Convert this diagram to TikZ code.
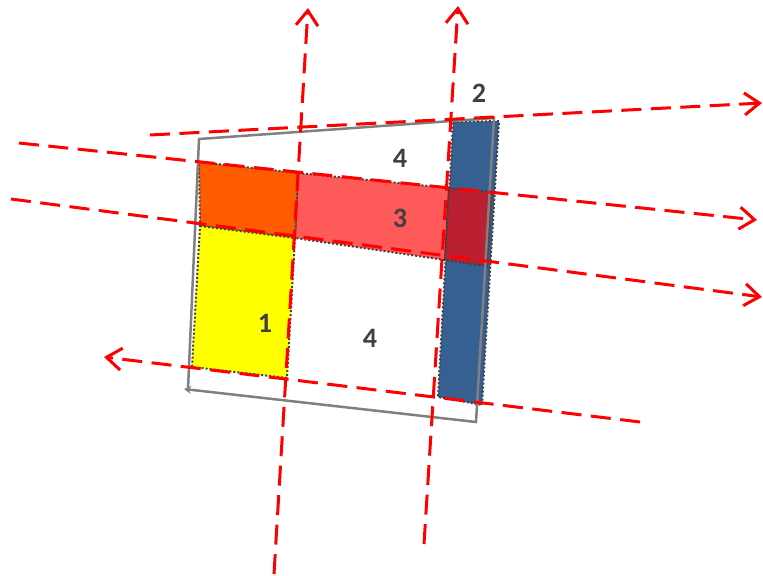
\documentclass[tikz,border=0pt]{standalone}
\usepackage{fontspec}
\newfontfamily\labelfont{Carlito}[BoldFont={Carlito Bold}]
\usetikzlibrary{arrows.meta}

\definecolor{zoneyellow}{HTML}{FFFF00}
\definecolor{zoneorange}{HTML}{FF5B00}
\definecolor{zonered}{HTML}{FF5A5A}
\definecolor{zonedark}{HTML}{BA1F32}
\definecolor{zoneblue}{HTML}{366092}
\definecolor{textgray}{HTML}{404040}
\definecolor{outlinegray}{HTML}{808080}

\begin{document}
\begin{tikzpicture}[
            x=0.2mm, y=-0.2mm,
            zone/.style={draw=textgray, line width=0.4mm, dash pattern=on 0.4mm off 0.4mm},
            outline/.style={draw=outlinegray, line width=0.5mm},
            ray/.style={draw=red, line width=0.6mm, dash pattern=on 4mm off 1.9mm, -{Straight Barb[length=3mm, width=4.4mm]}},
            num/.style={font=\labelfont\bfseries\fontsize{16}{16}\selectfont, text=textgray}
        ]
            \useasboundingbox (0,0) rectangle (763,575);

            % --- 1. zones ---
            \fill[zoneblue, zone] (453,122) -- (499,121) -- (482,405) -- (438,397) -- cycle;
            \fill[zonered, zone] (298,173) -- (449,188) -- (445,260) -- (295,238) -- cycle;
            \fill[zonedark, zone] (449,188) -- (492,192) -- (487,266) -- (445,260) -- cycle;
            \fill[zoneorange, zone] (199,162) -- (298,173) -- (295,238) -- (200,226) -- cycle;
            \fill[zoneyellow, zone] (200,226) -- (295,238) -- (287,378) -- (192,367) -- cycle;

            % --- 2. outline ---
            \draw[outline, -{Stealth[length=1.4mm, width=1.6mm]}]
              (188,389) -- (199,139) -- (494,118) -- (476,422) -- (184,389);

            % --- 3. rays ---
            \coordinate (v1s) at (274,574);
            \coordinate (v1e) at (308,8);
            \coordinate (v2s) at (424,544);
            \coordinate (v2e) at (458,6);
            \coordinate (h1s) at (150,135);
            \coordinate (h1e) at (762,103);
            \coordinate (h2s) at (19,143);
            \coordinate (h2e) at (757,220);
            \coordinate (h3s) at (11,199);
            \coordinate (h3e) at (762,297);
            \coordinate (h4s) at (640,422);
            \coordinate (h4e) at (104,357);

            \draw[ray] (v1s) -- (v1e);
            \draw[ray] (v2s) -- (v2e);
            \draw[ray] (h1s) -- (h1e);
            \draw[ray] (h2s) -- (h2e);
            \draw[ray] (h3s) -- (h3e);
            \draw[ray] (h4s) -- (h4e);

            % --- 4. labels ---
            \node[num] (lab1) at (265,323) {1};
            \node[num] (lab2) at (479,93) {2};
            \node[num] (lab3) at (400,218) {3};
            \node[num] (lab4a) at (400,158) {4};
            \node[num] (lab4b) at (370,338) {4};

        \end{tikzpicture}
\end{document}
